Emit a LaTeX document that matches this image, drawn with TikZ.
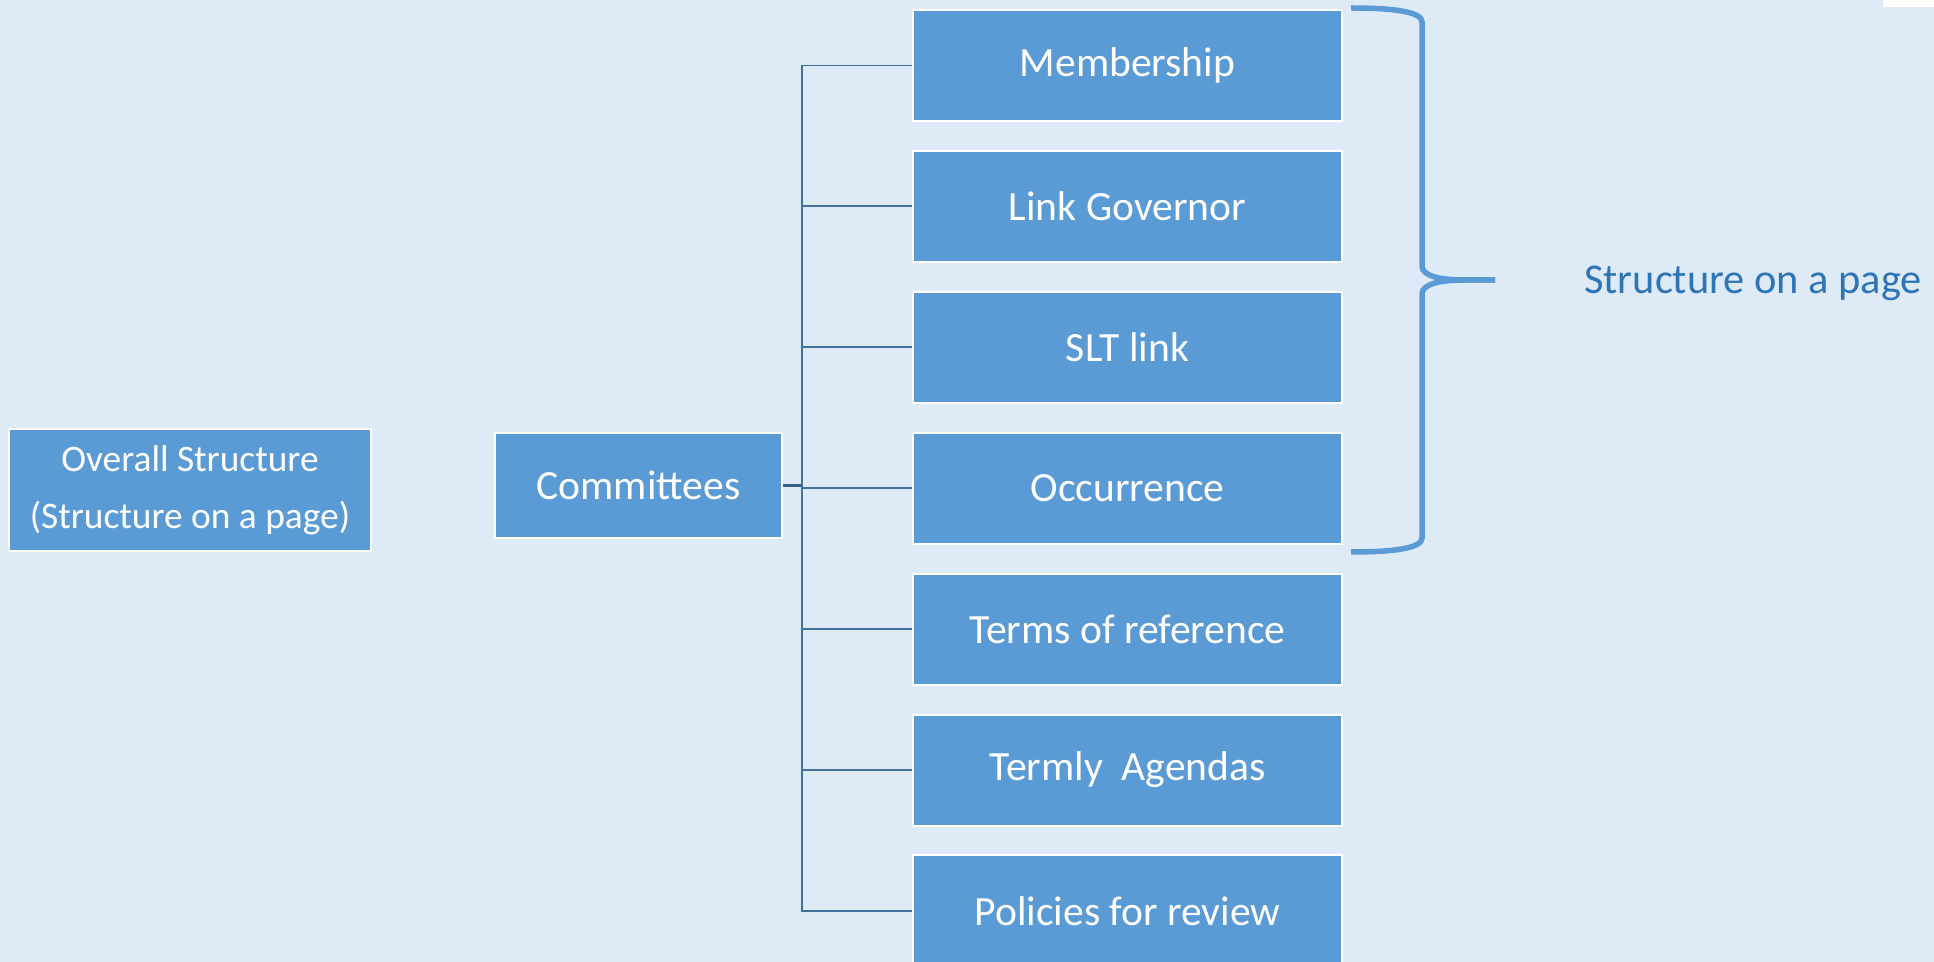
\documentclass[tikz,border=0pt]{standalone}
\usepackage{fontspec}
\setmainfont{Carlito}

\definecolor{pagebg}{HTML}{DEEAF6}
\definecolor{boxfill}{HTML}{5B9BD5}
\definecolor{linkline}{HTML}{41719C}
\definecolor{stubline}{HTML}{3A5F85}
\definecolor{labeltext}{HTML}{2E75B6}

\begin{document}
\begin{tikzpicture}
  [x=0.5pt, y=-0.5pt,
   box/.style={shape = rectangle, fill=boxfill, draw=white, line width=1pt,
     text=white, inner sep=0pt, align=center,
     font=\fontsize{20.8pt}{28.4pt}\selectfont},
   item/.style={box, minimum width=214.5pt, minimum height=55.5pt},
   branch/.style={draw=linkline, line width=0.9pt},
   bracepath/.style={draw=boxfill, line width=2.75pt}]

  \newcommand{\itemx}{1127.5}
  \newcommand{\trunkx}{802}

    % page
    \useasboundingbox (0,0) rectangle (1934,962);
    \clip (0,0) rectangle (1934,962);
    \fill [pagebg] (0,0) rectangle (1934,962);
    \fill [white] (1883,0) rectangle (1934,7);

    \begin{scope}
      \node [box, minimum width=181pt, minimum height=61pt,
        font=\fontsize{18.7pt}{28.4pt}\selectfont] (overall) at (190,490)
        {Overall Structure\\(Structure on a page)};
      \node [box, minimum width=143.5pt, minimum height=52.5pt] (committees) at (638.5,485.5)
        {Committees};
    \end{scope}

    \begin{scope}
      \node [item] (membership) at (\itemx,65.5) {Membership};
      \node [item] (linkgov) at (\itemx,206.4) {Link Governor};
      \node [item] (sltlink) at (\itemx,347.3) {SLT link};
      \node [item] (occurrence) at (\itemx,488.2) {Occurrence};
      \node [item] (terms) at (\itemx,629.1) {Terms of reference};
      \node [item] (agendas) at (\itemx,770) {Termly\ \ Agendas};
      \node [item] (policies) at (\itemx,910.9) {Policies for review};
    \end{scope}

    \coordinate (trunk) at (\trunkx,485.5);

    \draw [draw=stubline, line width=1.4pt] (committees.east) -- (trunk);
    \draw [branch] (trunk) |- (membership.west);
    \draw [branch] (trunk) |- (linkgov.west);
    \draw [branch] (trunk) |- (sltlink.west);
    \draw [branch] (trunk) |- (occurrence.west);
    \draw [branch] (trunk) |- (terms.west);
    \draw [branch] (trunk) |- (agendas.west);
    \draw [branch] (trunk) |- (policies.west);

    % brace over the first four items
    \coordinate (bracetop) at (1351,8);
    \coordinate (bracetip) at (1495,280);
    \coordinate (bracebot) at (1351,552);

    \draw [bracepath] (bracetop) .. controls (1395,8) and (1422,12) .. (1422,22)
      -- (1422,266) .. controls (1422,276) and (1440,280) .. (1465,280) -- (bracetip);
    \draw [bracepath] (bracetip) -- (1465,280) .. controls (1440,280) and (1422,284) .. (1422,294)
      -- (1422,538) .. controls (1422,548) and (1395,552) .. (bracebot);

    \node [text=labeltext, font=\fontsize{21.2pt}{25pt}\selectfont] (pagelabel) at (1753,283)
      {Structure on a page};

  \end{tikzpicture}
\end{document}
